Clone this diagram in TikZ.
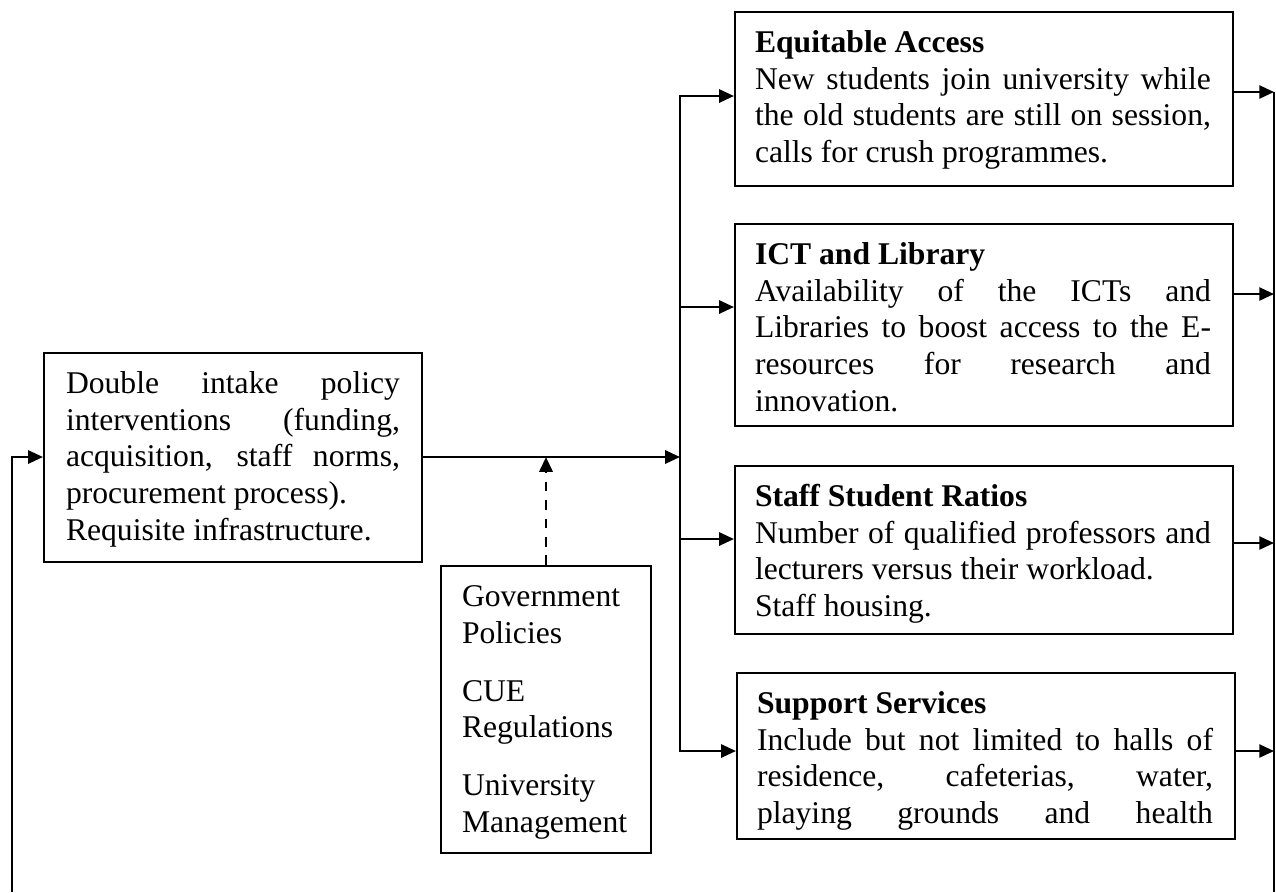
\documentclass[tikz,border=0pt]{standalone}
\usepackage{fontspec}
\setmainfont{Liberation Serif}
\usetikzlibrary{arrows.meta,fit,calc}

\tolerance=10000
\hyphenpenalty=10000

\begin{document}
\begin{tikzpicture}[
  x=0.3794pt, y=-0.3794pt,
  >={Triangle[length=5.6pt,width=5pt]},
  line width=0.8pt,
  box/.style={draw, line width=0.8pt, inner sep=0pt},
  txt/.style={anchor=north west, inner sep=0pt, text width=#1, align=justify,
    font=\fontsize{12pt}{13.9pt}\selectfont},
  list/.style={anchor=north west, inner sep=0pt, align=left,
    font=\fontsize{12pt}{13.9pt}\selectfont},
  ctrl/.style={->, line width=1pt, dash pattern=on 3.6pt off 3.4pt}
]
  \useasboundingbox (0,0) rectangle (1276,892);

  % frames of the six boxes
  \node[box, fit={(44,353) (422,562)}] (intake) {};
  \node[box, fit={(441,566) (651,853)}] (gov) {};
  \node[box, fit={(735,12) (1233,186)}] (access) {};
  \node[box, fit={(735,224) (1233,426)}] (ict) {};
  \node[box, fit={(735,466) (1233,634)}] (staff) {};
  \node[box, fit={(737,673) (1235,839)}] (support) {};

  % texts inside
  \node[txt=126.7pt] (intaketxt) at ($(intake.north west)+(22,15)$)
    {\strut Double intake policy\linebreak interventions (funding,\linebreak
     acquisition, staff norms,\linebreak procurement process).\\
     Requisite infrastructure.};
  \node[list] (govtxt) at ($(gov.north west)+(21,15)$)
    {\strut Government\\ Policies\\[8pt] CUE\\ Regulations\\[8pt]
     University\\ Management};
  \node[txt=173pt] (accesstxt) at ($(access.north west)+(20,15)$)
    {\strut\textbf{Equitable Access}\\ New students join university while\linebreak
     the old students are still on session,\linebreak calls for crush programmes.};
  \node[txt=173pt] (icttxt) at ($(ict.north west)+(20,15)$)
    {\strut\textbf{ICT and Library}\\ Availability of the ICTs and\linebreak
     Libraries to boost access to the E-\linebreak resources for research and\linebreak
     innovation.};
  \node[txt=173pt] (stafftxt) at ($(staff.north west)+(20,15)$)
    {\strut\textbf{Staff Student Ratios}\\ Number of qualified professors and\linebreak
     lecturers versus their workload.\\ Staff housing.};
  \node[txt=173pt] (supporttxt) at ($(support.north west)+(20,15)$)
    {\strut\textbf{Support Services}\\ Include but not limited to halls of\linebreak
     residence, cafeterias, water,\linebreak playing grounds and health{\parfillskip=0pt\par}};

  % trunk on the left of the four boxes
  \coordinate (split) at (680,457);
  \coordinate (tTop) at (680,96);
  \coordinate (tIct) at (680,307);
  \coordinate (tStaff) at (680,539);
  \coordinate (tBot) at (680,751);

  % rail on the right and the way back
  \coordinate (r1) at (1274,92);
  \coordinate (r2) at (1274,294);
  \coordinate (r3) at (1274,543);
  \coordinate (r4) at (1274,751);
  \coordinate (rBot) at (1274,892);
  \coordinate (bTop) at (12,457);
  \coordinate (bBot) at (12,892);

  \draw[->] (intake.east |- split) -- (split);
  \draw[ctrl] (gov.north) -- (gov.north |- split);

  \draw[->] (split) -- (tTop) -- (tTop -| access.west);
  \draw[->] (tIct) -- (tIct -| ict.west);
  \draw[->] (tStaff) -- (tStaff -| staff.west);
  \draw[->] (split) -- (tBot) -- (tBot -| support.west);

  \draw[->] (r1 -| access.east) -- (r1);
  \draw[->] (r2 -| ict.east) -- (r2);
  \draw[->] (r3 -| staff.east) -- (r3);
  \draw[->] (r4 -| support.east) -- (r4);
  \draw (r1) -- (rBot);

  \draw[->] (bBot) -- (bTop) -- (bTop -| intake.west);
\end{tikzpicture}
\end{document}
